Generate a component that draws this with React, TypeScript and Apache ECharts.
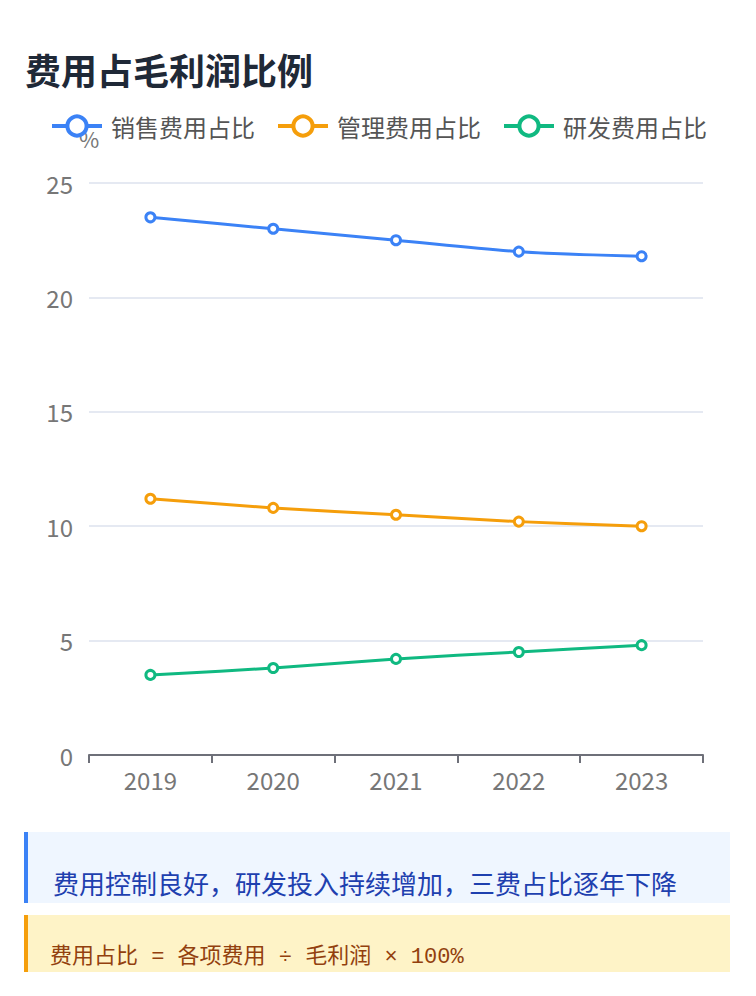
import React, { useEffect, useRef } from "react";
import * as echarts from "echarts";

const years = ["2019", "2020", "2021", "2022", "2023"];
const salesRatio = [23.5, 23.0, 22.5, 22.0, 21.8];
const mgmtRatio = [11.2, 10.8, 10.5, 10.2, 10.0];
const rdRatio = [3.5, 3.8, 4.2, 4.5, 4.8];
const seriesNames = ["销售费用占比", "管理费用占比", "研发费用占比"];
const colors = ["#3b82f6", "#f59e0b", "#10b981"];

const FONT = "'Noto Sans CJK SC', 'Noto Sans', sans-serif";

export default function App() {
  const ref = useRef<HTMLDivElement>(null);

  useEffect(() => {
    if (!ref.current) return;
    const chart = echarts.init(ref.current, null, { renderer: "svg" });
    const values = [salesRatio, mgmtRatio, rdRatio];
    chart.setOption({
      animation: false,
      textStyle: { fontFamily: FONT },
      legend: {
        top: 9,
        left: 45,
        itemWidth: 50,
        itemHeight: 24,
        itemGap: 21,
        itemStyle: { borderWidth: 4 },
        lineStyle: { width: 4 },
        textStyle: { fontSize: 24, color: "#555", fontFamily: FONT, padding: [0, 0, 0, 4] },
        data: seriesNames,
      },
      grid: { left: 89, right: 53, top: 83, bottom: 65, containLabel: false },
      xAxis: {
        type: "category",
        data: years,
        boundaryGap: true,
        axisLine: { lineStyle: { color: "#6e7079", width: 2 } },
        axisTick: { show: true, length: 8, lineStyle: { color: "#6e7079", width: 2 } },
        axisLabel: { fontSize: 24, color: "#777", margin: 12, fontFamily: FONT },
      },
      yAxis: {
        type: "value",
        name: "%",
        nameGap: 34,
        nameTextStyle: { fontSize: 22, color: "#777", align: "center" },
        min: 0,
        max: 25,
        interval: 5,
        axisLabel: { fontSize: 24, color: "#777", margin: 16, fontFamily: FONT },
        splitLine: { lineStyle: { color: "#e5e9f2", width: 2 } },
        axisLine: { show: false },
        axisTick: { show: false },
      },
      series: seriesNames.map((name, i) => ({
        name,
        type: "line",
        data: values[i],
        smooth: 0.3,
        symbol: "circle",
        symbolSize: 9,
        color: colors[i],
        lineStyle: { width: 3, color: colors[i] },
        itemStyle: { color: "#fff", borderColor: colors[i], borderWidth: 3 },
      })),
    });
    return () => chart.dispose();
  }, []);

  return (
    <div style={{ position: "absolute", left: 0, top: 0, width: 756, height: 996, background: "#fff", fontFamily: FONT }}>
      <div
        style={{
          position: "absolute",
          left: 25,
          top: 45,
          fontSize: 36,
          fontWeight: 700,
          color: "#1f2937",
          lineHeight: "48px",
          whiteSpace: "nowrap",
        }}
      >
        费用占毛利润比例
      </div>
      <div ref={ref} style={{ position: "absolute", left: 0, top: 100, width: 756, height: 720 }} />
      <div
        style={{
          position: "absolute",
          left: 24,
          top: 832,
          width: 702,
          height: 71,
          background: "#eff6ff",
          borderLeft: "4px solid #3b82f6",
        }}
      >
        <div
          style={{
            position: "absolute",
            left: 25,
            top: 33,
            fontSize: 26,
            lineHeight: "36px",
            color: "#1e40af",
            whiteSpace: "nowrap",
          }}
        >
          费用控制良好，研发投入持续增加，三费占比逐年下降
        </div>
      </div>
      <div
        style={{
          position: "absolute",
          left: 24,
          top: 915,
          width: 702,
          height: 57,
          background: "#fef3c7",
          borderLeft: "4px solid #f59e0b",
        }}
      >
        <div
          style={{
            position: "absolute",
            left: 22,
            top: 28,
            fontSize: 22,
            lineHeight: "30px",
            color: "#92400e",
            whiteSpace: "nowrap",
            fontFamily: "'Liberation Mono', 'Noto Sans CJK SC', monospace",
          }}
        >
          费用占比 = 各项费用 ÷ 毛利润 × 100%
        </div>
      </div>
    </div>
  );
}
